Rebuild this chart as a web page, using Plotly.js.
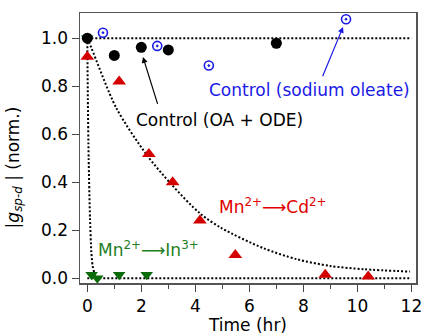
<!DOCTYPE html>
<html><head><meta charset="utf-8">
<script src="https://cdn.plot.ly/plotly-3.0.1.min.js"></script>
<style>html,body{margin:0;padding:0;background:#fff}#c{width:424px;height:335px}</style>
</head><body><div id="c"></div>
<script>
// Control (OA + ODE)
const ctrlOA_x = [0, 1.0, 2.0, 3.0, 7.0];
const ctrlOA_y = [1.0, 0.928, 0.962, 0.951, 0.979];
// Control (sodium oleate)
const ctrlNa_x = [0.58, 2.59, 4.5, 9.58];
const ctrlNa_y = [1.023, 0.968, 0.886, 1.079];
// Mn2+ -> Cd2+
const cd_x = [0, 1.18, 2.28, 3.16, 4.17, 5.48, 8.81, 10.4];
const cd_y = [0.923, 0.82, 0.517, 0.40, 0.24, 0.097, 0.014, 0.007];
// Mn2+ -> In3+
const in_x = [0, 0.16, 0.37, 1.18, 2.2];
const in_y = [1.0, 0.014, 0.0, 0.014, 0.014];
// fit curves
const fitCd_x = [0, 0.15, 1.07, 2.2, 3.13, 4.17, 4.98, 6.52, 7.76, 8.99, 10.22, 11.95];
const fitCd_y = [1.0, 0.96, 0.71, 0.514, 0.389, 0.27, 0.208, 0.125, 0.079, 0.051, 0.0375, 0.0275];
const fitIn_x = [0, 0.02, 0.05, 0.1, 0.15, 0.2, 0.3, 0.5];
const fitIn_y = [1.0, 0.75, 0.5, 0.25, 0.11, 0.05, 0.012, 0.0];
const flat_x = [0, 12];
const flatOne_y = [1.0, 1.0];
const flatZero_y = [0.0, 0.0];

const DOT = '2px,2px';
const fitLine = {color: '#000', width: 2, dash: DOT};
const traces = [
  {x: flat_x, y: flatOne_y, mode: 'lines', line: fitLine},
  {x: flat_x, y: flatZero_y, mode: 'lines', line: fitLine},
  {x: fitCd_x, y: fitCd_y, mode: 'lines', line: Object.assign({shape: 'spline', smoothing: 0.8}, fitLine)},
  {x: fitIn_x, y: fitIn_y, mode: 'lines', line: Object.assign({shape: 'spline', smoothing: 0.6}, fitLine)},
  {x: in_x, y: in_y, mode: 'markers', marker: {symbol: 'triangle-down', size: 11, color: '#0b6b0b'}},
  {x: cd_x, y: cd_y, mode: 'markers', marker: {symbol: 'triangle-up', size: 12, color: '#d40000'}},
  {x: ctrlNa_x, y: ctrlNa_y, mode: 'markers', marker: {symbol: 'circle-open-dot', size: 9, color: '#1a1ae6', line: {width: 1.6, color: '#1a1ae6'}}},
  {x: ctrlOA_x, y: ctrlOA_y, mode: 'markers', marker: {symbol: 'circle', size: 11, color: '#000'}}
];

const F = 'DejaVu Sans, Verdana, sans-serif';
const FS = 17;
const layout = {
  width: 424, height: 335,
  margin: {l: 80, r: 8, t: 13, b: 52},
  showlegend: false,
  paper_bgcolor: '#fff', plot_bgcolor: '#fff',
  font: {family: F, size: FS, color: '#000'},
  xaxis: {
    range: [-0.27, 12.17], tickvals: [0, 2, 4, 6, 8, 10, 12], ticktext: ['0','2','4','6','8','10','12'],
    ticks: 'outside', ticklen: 7, tickwidth: 1.2, tickcolor: '#444',
    minor: {tickvals: [1, 3, 5, 7, 9, 11], ticks: 'outside', ticklen: 4, tickwidth: 1.2, tickcolor: '#444', showgrid: false},
    showline: true, mirror: true, linecolor: '#555', linewidth: 1.5,
    showgrid: false, zeroline: false,
    title: {text: 'Time (hr)', font: {family: F, size: FS}, standoff: 2},
    tickfont: {family: F, size: FS}
  },
  yaxis: {
    range: [-0.02, 1.105], tickvals: [0, 0.2, 0.4, 0.6, 0.8, 1.0], ticktext: ['0.0','0.2','0.4','0.6','0.8','1.0'],
    ticks: 'outside', ticklen: 7, tickwidth: 1.2, tickcolor: '#444',
    showline: true, mirror: true, linecolor: '#555', linewidth: 1.5,
    showgrid: false, zeroline: false,
    tickfont: {family: F, size: FS}
  },
  annotations: [
    {xref: 'paper', yref: 'paper', x: -0.195, y: 0.43, xanchor: 'center', yanchor: 'middle', textangle: -90, showarrow: false,
     text: '|<i>g</i><sub><i>sp-d</i></sub> | (norm.)', font: {family: F, size: FS, color: '#000'}},
    {x: 4.91, y: 0.66, text: 'Control (OA + ODE)', showarrow: false, font: {family: F, size: FS, color: '#000'}},
    {x: 2.06, y: 0.922, ax: 2.62, ay: 0.72, axref: 'x', ayref: 'y', text: '', showarrow: true,
     arrowhead: 2, arrowsize: 1, arrowwidth: 1.2, arrowcolor: '#000'},
    {x: 8.23, y: 0.785, text: 'Control (sodium oleate)', showarrow: false, font: {family: F, size: FS, color: '#1a1ae6'}},
    {x: 9.47, y: 1.047, ax: 8.69, ay: 0.835, axref: 'x', ayref: 'y', text: '', showarrow: true,
     arrowhead: 2, arrowsize: 1, arrowwidth: 1.2, arrowcolor: '#1a1ae6'},
    {x: 6.89, y: 0.30, text: 'Mn<sup>2+</sup>⟶Cd<sup>2+</sup>', showarrow: false, font: {family: F, size: FS, color: '#e00000'}},
    {x: 2.26, y: 0.12, text: 'Mn<sup>2+</sup>⟶In<sup>3+</sup>', showarrow: false, font: {family: F, size: FS, color: '#1f801f'}}
  ]
};
Plotly.newPlot('c', traces, layout, {staticPlot: true, displayModeBar: false});
</script></body></html>
